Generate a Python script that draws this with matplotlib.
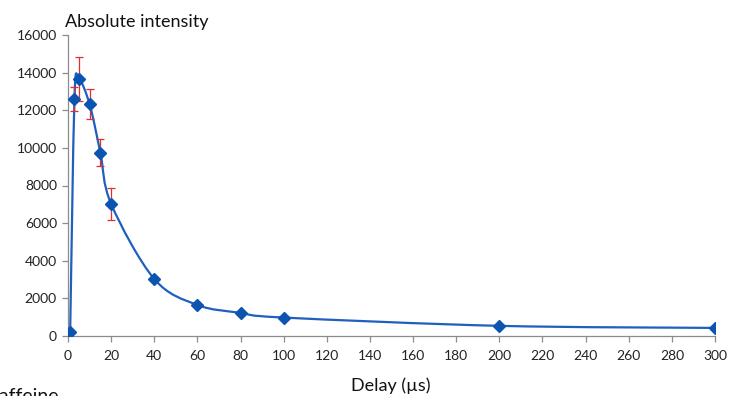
import numpy as np
import matplotlib
matplotlib.use("Agg")
import matplotlib.pyplot as plt
from matplotlib.path import Path
from matplotlib.patches import PathPatch

plt.rcParams['font.family'] = ['Lato', 'DejaVu Sans']

delay = [1, 3, 5, 10, 15, 20, 40, 60, 80, 100, 200, 300]
intensity = [200, 12600, 13660, 12330, 9750, 7020, 3030, 1650, 1230, 980, 540, 430]
error = [0, 650, 1150, 780, 720, 830, 0, 0, 0, 0, 0, 0]

line_col = '#1f5fbf'
mark_col = '#0b55b0'
err_col = '#e0302e'

fig = plt.figure(figsize=(7.32, 3.96), dpi=100)
ax = fig.add_axes([68/732, 60/396, 647/732, 301/396])

# smooth line like Excel: cubic Bezier segments (Catmull-Rom control points)
P = np.column_stack([delay, intensity]).astype(float)
verts = [P[0]]
codes = [Path.MOVETO]
n = len(P)
for i in range(n - 1):
    p0 = P[i - 1] if i > 0 else P[i]
    p1 = P[i]
    p2 = P[i + 1]
    p3 = P[i + 2] if i + 2 < n else P[i + 1]
    c1 = p1 + (p2 - p0) / 6
    c2 = p2 - (p3 - p1) / 6
    verts += [c1, c2, p2]
    codes += [Path.CURVE4] * 3
ax.add_patch(PathPatch(Path(verts, codes), fill=False, edgecolor=line_col, lw=1.6, zorder=2))

yerr = np.array(error)
mask = yerr > 0
ax.errorbar(np.array(delay)[mask], np.array(intensity)[mask], yerr=yerr[mask], fmt='none',
            ecolor=err_col, elinewidth=0.9, capsize=3, capthick=0.9, zorder=3)
ax.plot(delay, intensity, linestyle='none', marker='D', ms=6.5, color=mark_col,
        markeredgecolor=mark_col, zorder=4)

ax.set_xlim(0, 300)
ax.set_ylim(0, 16000)
ax.set_xticks(np.arange(0, 301, 20))
ax.set_yticks(np.arange(0, 16001, 2000))
for s in ['top', 'right']:
    ax.spines[s].set_visible(False)
for s in ['left', 'bottom']:
    ax.spines[s].set_color('#8c8c8c')
    ax.spines[s].set_linewidth(0.9)
ax.tick_params(axis='both', colors='#8c8c8c', labelcolor='#222222', labelsize=10, length=4, width=0.9)
ax.tick_params(axis='x', pad=6)
ax.tick_params(axis='y', pad=4)

fig.text(65/732, 1 - 22/396, 'Absolute intensity', fontsize=13, color='#111111', va='center', ha='left')
fig.text(391/732, 1 - 386/396, 'Delay (\u00b5s)', fontsize=13, color='#111111', va='center', ha='center')
fig.text(-14/732, 1 - 397/396, 'Caffeine', fontsize=14, color='#111111', va='center', ha='left')

fig.savefig('out.png', dpi=100)
